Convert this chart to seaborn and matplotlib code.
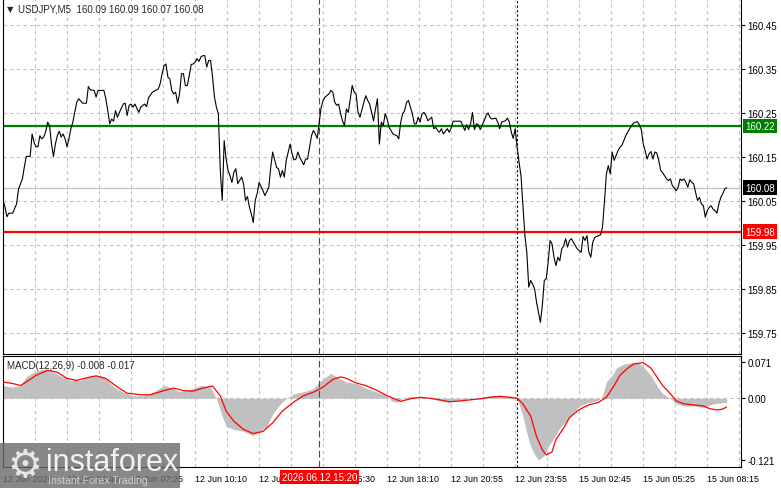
import numpy as np
import matplotlib.pyplot as plt
import seaborn as sns
from matplotlib.patches import Rectangle
from matplotlib.transforms import blended_transform_factory

sns.set_style("white")
plt.rcParams['font.family'] = ['Liberation Sans', 'DejaVu Sans']

# ---------------------------
# Data (USDJPY M5; x = bar number)
# ---------------------------
price_bars = [
    0, 1, 2, 3, 5, 7, 8, 10, 11, 12, 14, 15, 16, 17, 18, 19, 20, 21, 22, 23,
    24, 25, 26, 27, 28, 29, 30, 31, 32, 33, 34, 35, 36, 37, 38, 39, 41, 43, 44, 45,
    47, 48, 49, 52, 53, 54, 55, 56, 57, 58, 59, 60, 62, 63, 64, 65, 66, 67, 68, 70,
    71, 73, 74, 75, 77, 80, 81, 82, 83, 84, 85, 86, 87, 88, 89, 90, 91, 92, 93, 94,
    95, 96, 97, 98, 99, 100, 101, 102, 103, 104, 105, 106, 107, 108, 109, 110, 111, 112, 113, 114,
    115, 116, 117, 118, 119, 120, 121, 123, 124, 125, 126, 127, 128, 129, 130, 131, 132, 134, 135, 137,
    138, 139, 141, 142, 143, 144, 145, 146, 148, 149, 150, 151, 152, 153, 155, 156, 157, 159, 160, 161,
    162, 163, 164, 165, 166, 168, 169, 170, 171, 172, 173, 174, 175, 176, 177, 178, 180, 181, 182, 183,
    184, 186, 187, 188, 189, 191, 192, 193, 194, 195, 196, 197, 198, 199, 200, 201, 203, 204, 205, 206,
    207, 208, 209, 210, 211, 212, 213, 214, 215, 216, 217, 218, 219, 220, 221, 222, 223, 224, 225, 226,
    227, 229, 230, 231, 232, 234, 236, 237, 238, 239, 240, 241, 242, 243, 244, 245, 246, 248, 249, 250,
    251, 252, 254, 255, 256, 257, 259, 260, 261, 262, 263, 264, 265, 266, 267, 268, 269, 270, 271, 272,
    273, 274, 275, 276, 277, 278, 279, 280, 281, 282, 283, 284, 285, 286, 287, 288, 289, 290, 291, 292,
    293, 294, 295, 296, 297, 298, 299, 300, 301, 302, 303, 304, 305, 307, 308, 309, 310, 311, 312, 313,
    314, 315, 316, 317, 318, 319, 320, 321, 323, 324, 325, 327, 328, 329, 330, 331, 332, 333, 334, 335,
    336, 337, 338, 339, 340, 341, 342, 343, 344, 345, 346, 347, 348, 349, 350, 351, 352, 353, 354, 355,
    356, 357, 358, 359, 360, 361, 362, 363, 364, 365, 366, 367, 368, 369, 370, 371, 372, 373,
]
price = [
    160.052, 160.036, 160.014, 160.022, 160.022, 160.043, 160.077, 160.100, 160.127, 160.151,
    160.151, 160.202, 160.183, 160.173, 160.173, 160.198, 160.191, 160.195, 160.207, 160.229,
    160.221, 160.179, 160.151, 160.179, 160.198, 160.208, 160.195, 160.202, 160.191, 160.173,
    160.191, 160.214, 160.229, 160.251, 160.274, 160.282, 160.272, 160.272, 160.310, 160.302,
    160.301, 160.286, 160.301, 160.301, 160.282, 160.255, 160.225, 160.236, 160.231, 160.255,
    160.240, 160.251, 160.270, 160.272, 160.244, 160.267, 160.270, 160.263, 160.270, 160.251,
    160.263, 160.270, 160.264, 160.284, 160.297, 160.304, 160.316, 160.339, 160.357, 160.361,
    160.331, 160.327, 160.301, 160.293, 160.297, 160.272, 160.293, 160.339, 160.339, 160.312,
    160.312, 160.335, 160.360, 160.361, 160.365, 160.373, 160.367, 160.377, 160.380, 160.380,
    160.354, 160.369, 160.369, 160.331, 160.286, 160.263, 160.248, 160.119, 160.051, 160.187,
    160.145, 160.119, 160.107, 160.092, 160.115, 160.123, 160.089, 160.104, 160.089, 160.051,
    160.060, 160.036, 160.020, 160.001, 160.051, 160.066, 160.092, 160.073, 160.062, 160.081,
    160.126, 160.161, 160.126, 160.123, 160.104, 160.119, 160.104, 160.142, 160.179, 160.157,
    160.143, 160.145, 160.161, 160.149, 160.132, 160.145, 160.145, 160.198, 160.210, 160.202,
    160.192, 160.229, 160.263, 160.278, 160.286, 160.293, 160.301, 160.297, 160.274, 160.267,
    160.270, 160.248, 160.232, 160.221, 160.259, 160.251, 160.312, 160.297, 160.293, 160.251,
    160.240, 160.274, 160.289, 160.278, 160.270, 160.232, 160.259, 160.282, 160.179, 160.229,
    160.221, 160.248, 160.236, 160.217, 160.210, 160.202, 160.198, 160.191, 160.229, 160.248,
    160.255, 160.274, 160.278, 160.263, 160.248, 160.225, 160.225, 160.240, 160.229, 160.248,
    160.251, 160.244, 160.232, 160.236, 160.240, 160.214, 160.217, 160.210, 160.206, 160.214,
    160.202, 160.214, 160.206, 160.215, 160.231, 160.231, 160.231, 160.221, 160.210, 160.223,
    160.212, 160.225, 160.251, 160.212, 160.225, 160.223, 160.212, 160.232, 160.244, 160.250,
    160.240, 160.236, 160.238, 160.229, 160.214, 160.229, 160.232, 160.238, 160.229, 160.206,
    160.192, 160.214, 160.172, 160.138, 160.107, 160.039, 159.971, 159.933, 159.854, 159.869,
    159.861, 159.850, 159.820, 159.797, 159.774, 159.812, 159.869, 159.873, 159.911, 159.960,
    159.952, 159.922, 159.903, 159.922, 159.914, 159.941, 159.948, 159.964, 159.945, 159.960,
    159.964, 159.956, 159.948, 159.941, 159.937, 159.933, 159.969, 159.960, 159.971, 159.933,
    159.922, 159.956, 159.967, 159.971, 159.973, 159.990, 160.047, 160.111, 160.130, 160.111,
    160.161, 160.142, 160.153, 160.164, 160.172, 160.176, 160.187, 160.198, 160.214, 160.221,
    160.227, 160.230, 160.223, 160.212, 160.179, 160.164, 160.145, 160.157, 160.162, 160.145,
    160.161, 160.159, 160.142, 160.119, 160.114, 160.107, 160.100, 160.096, 160.100, 160.085,
    160.079, 160.073, 160.081, 160.100, 160.096, 160.100, 160.092, 160.081, 160.098, 160.092,
    160.089, 160.069, 160.051, 160.058, 160.043, 160.039, 160.013, 160.028, 160.035, 160.039,
    160.031, 160.028, 160.022, 160.043, 160.058, 160.066, 160.077, 160.080,
]

# MACD(12,26,9): main line (histogram) and signal line
hist_bars = [
    0, 5, 9, 12, 16, 21, 24, 29, 35, 40, 45, 50, 53, 57, 62, 67, 72, 77, 83, 86,
    91, 96, 102, 107, 110, 113, 115, 119, 124, 129, 132, 136, 139, 143, 146, 150, 155, 160, 163, 169,
    172, 177, 182, 187, 193, 198, 200, 203, 206, 210, 215, 220, 225, 230, 236, 241, 246, 251, 256, 261,
    265, 266, 268, 270, 272, 274, 276, 279, 281, 284, 287, 291, 294, 297, 301, 304, 307, 309, 311, 314,
    316, 320, 323, 327, 330, 334, 337, 340, 344, 347, 351, 356, 361, 366, 370, 373,
]
macd_hist = [
    0.025, 0.022, 0.025, 0.042, 0.052, 0.057, 0.055, 0.045, 0.035, 0.035,
    0.044, 0.044, 0.039, 0.022, 0.012, 0.005, 0.005, 0.011, 0.025, 0.022,
    0.013, 0.017, 0.025, 0.022, -0.001, -0.035, -0.055, -0.061, -0.065, -0.073,
    -0.065, -0.055, -0.031, -0.011, 0.000, 0.009, 0.013, 0.019, 0.032, 0.049,
    0.042, 0.032, 0.029, 0.020, 0.012, 0.005, -0.005, -0.008, 0.000, 0.004,
    0.002, 0.000, -0.005, -0.007, -0.003, -0.001, 0.002, 0.005, 0.005, 0.004,
    0.000, -0.011, -0.035, -0.068, -0.095, -0.110, -0.121, -0.112, -0.095, -0.078,
    -0.058, -0.041, -0.028, -0.016, -0.009, -0.007, -0.003, 0.005, 0.032, 0.045,
    0.059, 0.067, 0.069, 0.071, 0.062, 0.045, 0.025, 0.009, 0.000, -0.011,
    -0.015, -0.015, -0.018, -0.011, -0.009, -0.008,
]
sig_bars = [
    0, 5, 9, 12, 17, 23, 28, 33, 38, 43, 48, 53, 59, 64, 71, 76, 83, 88, 93, 98,
    103, 108, 112, 115, 119, 124, 129, 134, 139, 144, 150, 155, 160, 165, 170, 174, 177, 182, 187, 193,
    198, 200, 205, 210, 215, 220, 225, 230, 236, 241, 246, 251, 256, 261, 265, 268, 272, 275, 278, 280,
    283, 285, 289, 292, 296, 299, 302, 307, 311, 315, 318, 322, 325, 330, 334, 337, 340, 344, 347, 351,
    356, 361, 364, 368, 371, 373,
]
macd_signal = [
    0.032, 0.029, 0.025, 0.032, 0.045, 0.055, 0.051, 0.039, 0.035, 0.040,
    0.044, 0.039, 0.022, 0.010, 0.007, 0.007, 0.015, 0.020, 0.015, 0.014,
    0.020, 0.024, 0.005, -0.025, -0.045, -0.061, -0.069, -0.065, -0.048, -0.025,
    -0.007, 0.005, 0.012, 0.022, 0.037, 0.042, 0.039, 0.030, 0.025, 0.015,
    0.005, 0.002, -0.006, -0.001, 0.002, 0.000, -0.003, -0.007, -0.005, -0.003,
    -0.001, 0.002, 0.004, 0.002, 0.000, -0.011, -0.035, -0.075, -0.101, -0.111,
    -0.105, -0.081, -0.058, -0.038, -0.025, -0.018, -0.013, -0.008, 0.002, 0.025,
    0.045, 0.059, 0.067, 0.070, 0.059, 0.042, 0.025, 0.009, -0.005, -0.011,
    -0.013, -0.015, -0.020, -0.023, -0.021, -0.017,
]

price_ticks = [160.45, 160.35, 160.25, 160.15, 160.05, 159.95, 159.85, 159.75]
macd_ticks = [0.071, 0.0, -0.121]
macd_tick_labels = ["0.071", "0.00", "-0.121"]
time_bars = [0, 33, 66, 99, 132, 165, 198, 231, 264, 297, 330, 363]
time_labels = ["12 Jun 2026", "12 Jun 04:40", "12 Jun 07:25", "12 Jun 10:10",
               "12 Jun 12:55", "12 Jun 15:30", "12 Jun 18:10", "12 Jun 20:55",
               "12 Jun 23:55", "15 Jun 02:45", "15 Jun 05:25", "15 Jun 08:15"]
resistance, support, last_price = 160.22, 159.98, 160.08
cursor_bar, cursor_label = 163, "2026.06.12 15:20"
week_break_bar = 265

# ---------------------------
# Layout (pixel boxes of the terminal window)
# ---------------------------
W, H = 781, 489
fig = plt.figure(figsize=(W / 100, H / 100), dpi=100)

def fx(px):
    return px / W

def fy(py):
    return 1 - py / H

def px_axes(x0, y0, x1, y1):
    return fig.add_axes([fx(x0), fy(y1), (x1 - x0) / W, (y1 - y0) / H])

ax = px_axes(3, -1, 741, 355)
axm = px_axes(3, 357, 741, 468)

grid_kw = dict(color="#c0c0c0", lw=0.8, ls=(0, (3, 3)), zorder=0)
for a in (ax, axm):
    a.set_xlim(0, 380.4)
    for g in np.arange(16.5, 380, 16.5):
        a.axvline(g, **grid_kw)
    a.axvline(week_break_bar, color="black", lw=0.8, ls=(0, (2, 2)), zorder=3)
    a.axvline(cursor_bar, color="#ff0000", lw=0.8, ls=(0, (6, 3)), zorder=3)
    for s in a.spines.values():
        s.set_color("black")
        s.set_linewidth(0.8)
    a.yaxis.tick_right()

# ---------------------------
# Price panel
# ---------------------------
ax.set_ylim(159.702, 160.511)
for lv in price_ticks:
    ax.axhline(lv, **grid_kw)
ax.axhline(last_price, color="#c0c0c0", lw=0.9, zorder=1)
ax.axhline(resistance, color="#008000", lw=1.6, zorder=2)
ax.axhline(support, color="#ff0000", lw=1.6, zorder=2)
sns.lineplot(x=price_bars, y=price, ax=ax, color="black", linewidth=0.8, zorder=4)

ax.set_xticks([])
ax.set_yticks(price_ticks)
ax.set_yticklabels([f"{v:.2f}" for v in price_ticks])
ax.tick_params(axis="y", length=3, width=0.8, pad=1.5, labelsize=7, colors="black")
ax.set_xlabel(""); ax.set_ylabel("")

trans = blended_transform_factory(ax.transAxes, ax.transData)
for lv, fc in [(resistance, "#008000"), (last_price, "black"), (support, "#ff0000")]:
    ax.text(1.0 + 4 / 738, lv, f"{lv:.2f}", transform=trans, color="white", fontsize=7,
            ha="left", va="center", clip_on=False,
            bbox=dict(boxstyle="square,pad=0.25", fc=fc, ec="none"))

# ---------------------------
# MACD panel
# ---------------------------
axm.set_ylim(-0.1347, 0.0829)
axm.axhline(0, **grid_kw)
axm.fill_between(hist_bars, 0, macd_hist, color="#c0c0c0", lw=0, zorder=1)
sns.lineplot(x=sig_bars, y=macd_signal, ax=axm, color="#ff0000", linewidth=0.9, zorder=4)

axm.set_yticks(macd_ticks)
axm.set_yticklabels(macd_tick_labels)
axm.tick_params(axis="y", length=3, width=0.8, pad=1.5, labelsize=7, colors="black")
axm.set_xticks(time_bars)
axm.set_xticklabels(time_labels, ha="left")
axm.tick_params(axis="x", length=3, width=0.8, pad=2, labelsize=6.4, colors="black")
axm.set_xlabel(""); axm.set_ylabel("")

axm.text(cursor_bar, fy(478), cursor_label,
         transform=blended_transform_factory(axm.transData, fig.transFigure),
         ha="center", va="center", color="white", fontsize=7, zorder=10, clip_on=False,
         bbox=dict(boxstyle="square,pad=0.2", fc="#ff0000", ec="none"))

# ---------------------------
# Header texts
# ---------------------------
fig.text(fx(7), fy(10), "\u25bc", fontsize=6, va="center", family="DejaVu Sans")
fig.text(fx(18), fy(10), "USDJPY,M5  160.09 160.09 160.07 160.08", fontsize=7, va="center")
fig.text(fx(7), fy(366), "MACD(12,26,9) -0.008 -0.017", fontsize=7, va="center")

# ---------------------------
# Watermark
# ---------------------------
fig.add_artist(Rectangle((0, fy(489)), 180 / W, 45 / H, transform=fig.transFigure,
                         fc="#6b6b6b", ec="none", alpha=0.8, zorder=5))
fig.text(fx(25), fy(466), "\u2699", fontsize=28, color="#e6e6e6", ha="center", va="center",
         family="DejaVu Sans", zorder=6)
fig.text(fx(46), fy(471), "instaforex", fontsize=22, color="#f2f2f2", va="baseline", zorder=6)
fig.text(fx(48), fy(484), "Instant Forex Trading", fontsize=7.6, color="#d0d0d0",
         va="baseline", zorder=6)

fig.savefig("out.png", dpi=100)
